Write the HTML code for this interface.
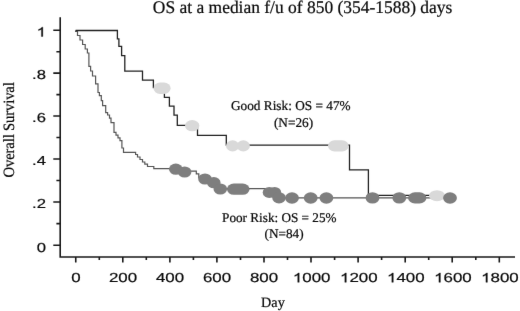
<!DOCTYPE html>
<html>
<head>
<meta charset="utf-8">
<title>Overall Survival</title>
<style>
html,body{margin:0;padding:0;background:#fff;}
body{width:520px;height:311px;overflow:hidden;position:relative;font-family:"Liberation Serif",serif;}
svg{position:absolute;left:0;top:0;display:block;}
text{fill:#0a0a0a;stroke:#0a0a0a;stroke-width:0.22px;text-rendering:geometricPrecision;}
.san text{stroke:#0a0a0a;stroke-width:0.2px;}
svg{filter:url(#bl);}
.ser{font-family:"Liberation Serif",serif;}
.san{font-family:"Liberation Sans",sans-serif;}
</style>
</head>
<body>
<svg width="520" height="311" viewBox="0 0 520 311">
<rect x="0" y="0" width="520" height="311" fill="#ffffff"/>
<defs>
<filter id="bl" x="0" y="0" width="100%" height="100%" color-interpolation-filters="sRGB"><feConvolveMatrix order="3" kernelMatrix="0.00276 0.04704 0.00276 0.04704 0.80077 0.04704 0.00276 0.04704 0.00276" edgeMode="duplicate" preserveAlpha="true"/></filter>
  <path id="one" fill="#111" stroke="#111" stroke-width="0.023" transform="scale(13)" d="M0.373,0 H0.285 V-0.560 Q0.253,-0.530 0.202,-0.500 Q0.150,-0.470 0.109,-0.455 V-0.540 Q0.183,-0.575 0.239,-0.625 Q0.294,-0.674 0.317,-0.720 H0.373 Z"/>
</defs>


<!-- axes -->
<g stroke="#1a1a1a" stroke-width="1.6" fill="none" stroke-linecap="butt">
  <path d="M60.2,17.3 V257 H515"/>
  <!-- y major ticks -->
  <path d="M53.3,30.2 H60.2 M53.3,73.1 H60.2 M53.3,116 H60.2 M53.3,159 H60.2 M53.3,202 H60.2 M53.3,245.2 H60.2"/>
  <!-- y minor ticks -->
  <path d="M56.4,51.7 H60.2 M56.4,94.6 H60.2 M56.4,137.5 H60.2 M56.4,180.5 H60.2 M56.4,223.6 H60.2"/>
  <!-- x major ticks -->
  <path d="M75.75,257 V262.5 M122.8,257 V262.5 M169.9,257 V262.5 M216.9,257 V262.5 M264,257 V262.5 M311,257 V262.5 M358.1,257 V262.5 M405.2,257 V262.5 M452.2,257 V262.5 M499.3,257 V262.5"/>
  <!-- x minor ticks -->
  <path d="M99.3,257 V260 M146.3,257 V260 M193.4,257 V260 M240.5,257 V260 M287.5,257 V260 M334.6,257 V260 M381.6,257 V260 M428.7,257 V260 M475.8,257 V260"/>
</g>

<!-- poor risk curve -->
<path id="poor" fill="none" stroke="#555555" stroke-width="1.2" stroke-linejoin="miter"
 d="M75.6,30.5 V31.5 H77.5 V35.5 H80 V40 H82.6 V44.5 H85.2 V49 H87.4 V53 H88.9 V66.3 H90.6 V71 H92.5 V76 H95.6 V83.8 H98 V92.5 H99.4 V95.6 H101.3 V100.7 H102.6 V105.7 H105.7 V112.6 H107.6 V115 H109.5 V118.2 H111 V122.6 H114 V129.8 V132.4 H116 V135.2 H118 V137.9 H120 V140.6 H121.9 V148 H123.5 V152.3 H135.6 V154.5 H137.5 V157 H140 V159.5 H142.5 V162 H144.8 V164.2 H147.5 V166.5 H153.8 V168.6 H180 V171.2 H196.3 V173.8 H198.8 V178 H208 V182 H216 V188.6 H266 V192.5 H274 V197.8 H449.5"/>

<!-- good risk curve -->
<path id="good" fill="none" stroke="#222222" stroke-width="1.3" stroke-linejoin="miter"
 d="M75.6,30.5 H117.4 V38.8 H118.9 V46.3 H121.6 V55.7 H124.8 V71.2 H142.5 V80.2 H153.4 V87.7 H164.4 V97.4 H169.4 V106.1 H174 V115.1 H177.3 V125.3 H197.5 V135.4 H226.3 V145.1 H349.5 V169.9 H368.4 V195.3 H437"/>

<!-- light markers (good risk censored) -->
<g fill="#d9d9d9">
  <rect x="153.5" y="82.6" width="17.1" height="11.3" rx="6.5" ry="5.65"/>
  <ellipse cx="192.2" cy="125.7" rx="7.2" ry="5.6"/>
  <ellipse cx="232.6" cy="145.9" rx="6.6" ry="5.6"/>
  <ellipse cx="243.3" cy="145.9" rx="6.6" ry="5.6"/>
  <rect x="328" y="140.3" width="20.7" height="11.2" rx="6.5" ry="5.6"/>
  <ellipse cx="437" cy="195.7" rx="8" ry="5.5"/>
</g>

<!-- dark markers (poor risk censored) -->
<g fill="#7e7e7e">
  <ellipse cx="175.8" cy="169.2" rx="6.8" ry="5.6"/>
  <ellipse cx="184.6" cy="172" rx="6.8" ry="5.6"/>
  <ellipse cx="205" cy="179" rx="6.8" ry="5.6"/>
  <ellipse cx="213.8" cy="182.7" rx="6.8" ry="5.6"/>
  <ellipse cx="220.3" cy="189" rx="6.8" ry="5.6"/>
  <rect x="227" y="183.6" width="22.5" height="11.2" rx="6.8" ry="5.6"/>
  <ellipse cx="269.3" cy="192.4" rx="6.6" ry="5.5"/>
  <ellipse cx="274.6" cy="192.4" rx="6.6" ry="5.5"/>
  <ellipse cx="279" cy="197.8" rx="6.8" ry="5.6"/>
  <ellipse cx="292" cy="198" rx="6.9" ry="5.7"/>
  <ellipse cx="310.7" cy="198" rx="6.9" ry="5.7"/>
  <ellipse cx="326.4" cy="198" rx="6.9" ry="5.7"/>
  <ellipse cx="372.5" cy="197.9" rx="6.9" ry="5.7"/>
  <ellipse cx="399.3" cy="197.9" rx="6.9" ry="5.7"/>
  <rect x="408.1" y="192.3" width="18.3" height="11.2" rx="6.8" ry="5.6"/>
  <ellipse cx="450" cy="198" rx="6.9" ry="5.7"/>
</g>

<!-- title -->
<g transform="translate(302.6,13.35) scale(1,1.02)"><text class="ser" x="0" y="0" font-size="17.45" text-anchor="middle" textLength="299.5" lengthAdjust="spacingAndGlyphs">OS at a median f/u of 850 (354-1588) days</text></g>

<!-- annotations -->
<g transform="translate(231,109.8) scale(1,1.01)"><text class="ser" x="0" y="0" font-size="13.3" textLength="119.6" lengthAdjust="spacingAndGlyphs">Good Risk: OS = 47%</text></g>
<g transform="translate(273.9,127.2) scale(1,1.01)"><text class="ser" x="0" y="0" font-size="13.3">(N=26)</text></g>
<g transform="translate(222.1,221.6) scale(1,1.01)"><text class="ser" x="0" y="0" font-size="13.2" textLength="114.4" lengthAdjust="spacingAndGlyphs">Poor Risk: OS = 25%</text></g>
<g transform="translate(264.6,238) scale(1,1.01)"><text class="ser" x="0" y="0" font-size="13.2">(N=84)</text></g>

<!-- axis titles -->
<text class="ser" x="261.1" y="306.6" font-size="14.2">Day</text>
<g transform="translate(14.2,177.4) rotate(-90) scale(1,1.07)">
  <text class="ser" x="0" y="0" font-size="14.7" textLength="95.2" lengthAdjust="spacing">Overall Survival</text>
</g>

<!-- y tick labels -->
<g class="san" font-size="13" text-anchor="end">
  <g transform="translate(45.9,36.5) scale(1.28,1)"><use href="#one" x="-7.228" y="0"/></g>
  <g transform="translate(45.9,79.4) scale(1.28,1)"><text x="0" y="0">.8</text></g>
  <g transform="translate(45.9,122.3) scale(1.28,1)"><text x="0" y="0">.6</text></g>
  <g transform="translate(45.9,165.3) scale(1.28,1)"><text x="0" y="0">.4</text></g>
  <g transform="translate(45.9,208.3) scale(1.28,1)"><text x="0" y="0">.2</text></g>
  <g transform="translate(45.9,251.5) scale(1.28,1)"><text x="0" y="0">0</text></g>
</g>

<!-- x tick labels -->
<g class="san" font-size="13">
  <g transform="translate(76,282.3) scale(1.30,1)"><text x="-3.614" y="0">0</text></g>
  <g transform="translate(123,282.3) scale(1.30,1)"><text x="-10.842" y="0">200</text></g>
  <g transform="translate(170,282.3) scale(1.30,1)"><text x="-10.842" y="0">400</text></g>
  <g transform="translate(217,282.3) scale(1.30,1)"><text x="-10.842" y="0">600</text></g>
  <g transform="translate(264,282.3) scale(1.30,1)"><text x="-10.842" y="0">800</text></g>
  <g transform="translate(311.7,282.3) scale(1.30,1)"><use href="#one" x="-14.456" y="0"/><text x="-7.228" y="0">000</text></g>
  <g transform="translate(358.8,282.3) scale(1.30,1)"><use href="#one" x="-14.456" y="0"/><text x="-7.228" y="0">200</text></g>
  <g transform="translate(405.8,282.3) scale(1.30,1)"><use href="#one" x="-14.456" y="0"/><text x="-7.228" y="0">400</text></g>
  <g transform="translate(452.9,282.3) scale(1.30,1)"><use href="#one" x="-14.456" y="0"/><text x="-7.228" y="0">600</text></g>
  <g transform="translate(499.9,282.3) scale(1.30,1)"><use href="#one" x="-14.456" y="0"/><text x="-7.228" y="0">800</text></g>
</g>
</svg>
</body>
</html>
